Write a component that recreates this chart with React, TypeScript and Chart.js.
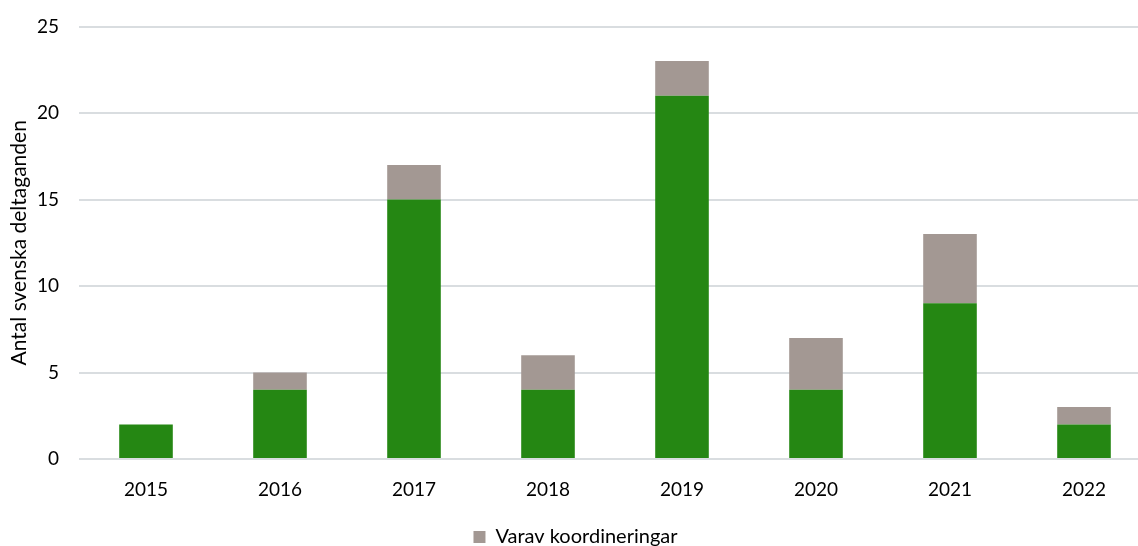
import React, { useEffect, useRef } from "react";
import { Chart, registerables } from "chart.js";

Chart.register(...registerables);

const years = ["2015", "2016", "2017", "2018", "2019", "2020", "2021", "2022"];
const participants = [2, 4, 15, 4, 21, 4, 9, 2];
const coordinations = [0, 1, 2, 2, 2, 3, 4, 1];
const yTicks = [0, 5, 10, 15, 20, 25];

const FONT = "Lato, 'Open Sans', sans-serif";
const GREEN = "#258713";
const GREY = "#A39893";
const GRID = "#D9DDE0";
const W = 1151;

const legendShift = {
  id: "legendShift",
  afterLayout(chart: any) {
    const lg = chart.legend;
    if (lg) {
      lg.top += 11;
      lg.bottom += 11;
    }
  },
};

export default function App() {
  const ref = useRef<HTMLCanvasElement>(null);
  useEffect(() => {
    document.body.style.margin = "0";
    document.body.style.overflow = "hidden";
    const chart = new Chart(ref.current!, {
      type: "bar",
      data: {
        labels: years,
        datasets: [
          {
            label: "Antal svenska deltaganden",
            data: participants,
            backgroundColor: GREEN,
            barPercentage: 0.4,
            categoryPercentage: 1,
          },
          {
            label: "Varav koordineringar",
            data: coordinations,
            backgroundColor: GREY,
            barPercentage: 0.4,
            categoryPercentage: 1,
          },
        ],
      },
      plugins: [legendShift],
      options: {
        animation: false,
        responsive: false,
        maintainAspectRatio: false,
        layout: { padding: { top: 26.5, left: 0, right: 0, bottom: 0 } },
        plugins: {
          tooltip: { enabled: false },
          legend: {
            position: "bottom",
            labels: {
              filter: (item) => item.datasetIndex === 1,
              boxWidth: 12,
              boxHeight: 12,
              padding: 0,
              color: "#000",
              font: { family: FONT, size: 20 },
            },
          },
        },
        scales: {
          x: {
            stacked: true,
            grid: { display: false },
            border: { display: false },
            ticks: {
              color: "#000",
              padding: 11,
              font: { family: FONT, size: 19 },
            },
            afterFit: (s: any) => {
              s.height = 57;
            },
          },
          y: {
            stacked: true,
            min: 0,
            max: 25,
            afterBuildTicks: (s: any) => {
              s.ticks = yTicks.map((v) => ({ value: v }));
            },
            grid: { color: GRID, lineWidth: 2, drawTicks: false },
            border: { display: false },
            ticks: {
              color: "#000",
              padding: 20,
              font: { family: FONT, size: 19, lineHeight: 0.5 },
            },
            title: {
              display: true,
              text: "Antal svenska deltaganden",
              color: "#000",
              font: { family: FONT, size: 21 },
              padding: { top: 7, bottom: 0 },
            },
            afterFit: (s: any) => {
              s.width = 79;
            },
          },
        },
      },
    });
    return () => chart.destroy();
  }, []);
  return (
    <div style={{ position: "absolute", left: 0, top: 0, width: W, height: 546 }}>
      <canvas ref={ref} width={W} height={546} />
    </div>
  );
}
